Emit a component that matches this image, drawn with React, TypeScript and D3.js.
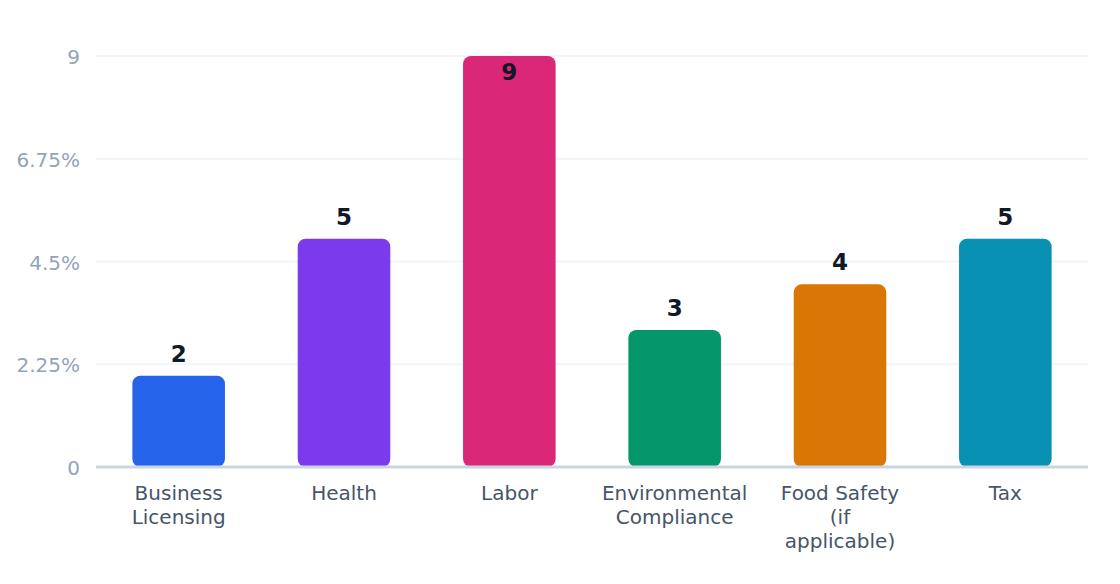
import React, { useEffect, useRef } from "react";
import * as d3 from "d3";

const categories = ["Business Licensing", "Health", "Labor", "Environmental Compliance", "Food Safety (if applicable)", "Tax"];
const values = [2, 5, 9, 3, 4, 5];
const colors = ["#2563eb", "#7c3aed", "#db2777", "#059669", "#d97706", "#0891b2"];
const tickValues = [0, 2.25, 4.5, 6.75, 9];
const tickLabels = ["0", "2.25%", "4.5%", "6.75%", "9"];

const W = 1120;
const H = 584;
const margin = { top: 56, right: 32, bottom: 117, left: 96 };
const FONT = "'DejaVu Sans', sans-serif";

export default function App() {
  const ref = useRef<SVGSVGElement | null>(null);

  useEffect(() => {
    const svg = d3.select(ref.current);
    svg.selectAll("*").remove();
    const iw = W - margin.left - margin.right;
    const ih = H - margin.top - margin.bottom;

    const x = d3.scaleBand<string>().domain(categories).range([margin.left, margin.left + iw]).paddingInner(0.44).paddingOuter(0.22);
    const y = d3.scaleLinear().domain([0, 9]).range([margin.top + ih, margin.top]);

    // grid
    svg.append("g")
      .selectAll("line")
      .data(tickValues.slice(1))
      .join("line")
      .attr("x1", margin.left)
      .attr("x2", margin.left + iw)
      .attr("y1", (d) => y(d))
      .attr("y2", (d) => y(d))
      .attr("stroke", "#f1f5f9")
      .attr("stroke-width", 2);

    // y tick labels
    svg.append("g")
      .selectAll("text")
      .data(tickValues)
      .join("text")
      .attr("x", margin.left - 16)
      .attr("y", (d) => y(d) + 1)
      .attr("dy", "0.35em")
      .attr("text-anchor", "end")
      .attr("font-family", FONT)
      .attr("font-size", 20)
      .attr("fill", "#94a3b8")
      .text((d, i) => tickLabels[i]);

    // bars
    svg.append("g")
      .selectAll("rect")
      .data(values)
      .join("rect")
      .attr("x", (d, i) => x(categories[i]) as number)
      .attr("width", x.bandwidth())
      .attr("y", (d) => y(d))
      .attr("height", (d) => y(0) - y(d))
      .attr("rx", 8)
      .attr("ry", 8)
      .attr("fill", (d, i) => colors[i]);

    // baseline axis
    svg.append("line")
      .attr("x1", margin.left)
      .attr("x2", margin.left + iw)
      .attr("y1", y(0))
      .attr("y2", y(0))
      .attr("stroke", "#cbd5e1")
      .attr("stroke-width", 3);

    // value labels
    svg.append("g")
      .selectAll("text")
      .data(values)
      .join("text")
      .attr("x", (d, i) => (x(categories[i]) as number) + x.bandwidth() / 2)
      .attr("y", (d) => Math.max(y(d) - 14, margin.top + 24))
      .attr("text-anchor", "middle")
      .attr("font-family", FONT)
      .attr("font-weight", "bold")
      .attr("font-size", 23)
      .attr("fill", "#111827")
      .text((d) => String(d));

    // x labels with wrapping
    const maxW = 124;
    const xl = svg.append("g");
    categories.forEach((c) => {
      const cx = (x(c) as number) + x.bandwidth() / 2;
      const t = xl.append("text")
        .attr("x", cx)
        .attr("y", y(0) + 33)
        .attr("text-anchor", "middle")
        .attr("font-family", FONT)
        .attr("font-size", 20)
        .attr("fill", "#475569");
      const words = c.split(/\s+/);
      let line: string[] = [];
      let tspan = t.append("tspan").attr("x", cx).attr("dy", 0);
      words.forEach((w) => {
        line.push(w);
        tspan.text(line.join(" "));
        const node = tspan.node() as SVGTextContentElement;
        if (node.getComputedTextLength() > maxW && line.length > 1) {
          line.pop();
          tspan.text(line.join(" "));
          line = [w];
          tspan = t.append("tspan").attr("x", cx).attr("dy", 24).text(w);
        }
      });
    });
  }, []);

  return (
    <svg ref={ref} width={W} height={H} style={{ display: "block", position: "absolute", left: 0, top: 0, background: "#fff" }} />
  );
}
